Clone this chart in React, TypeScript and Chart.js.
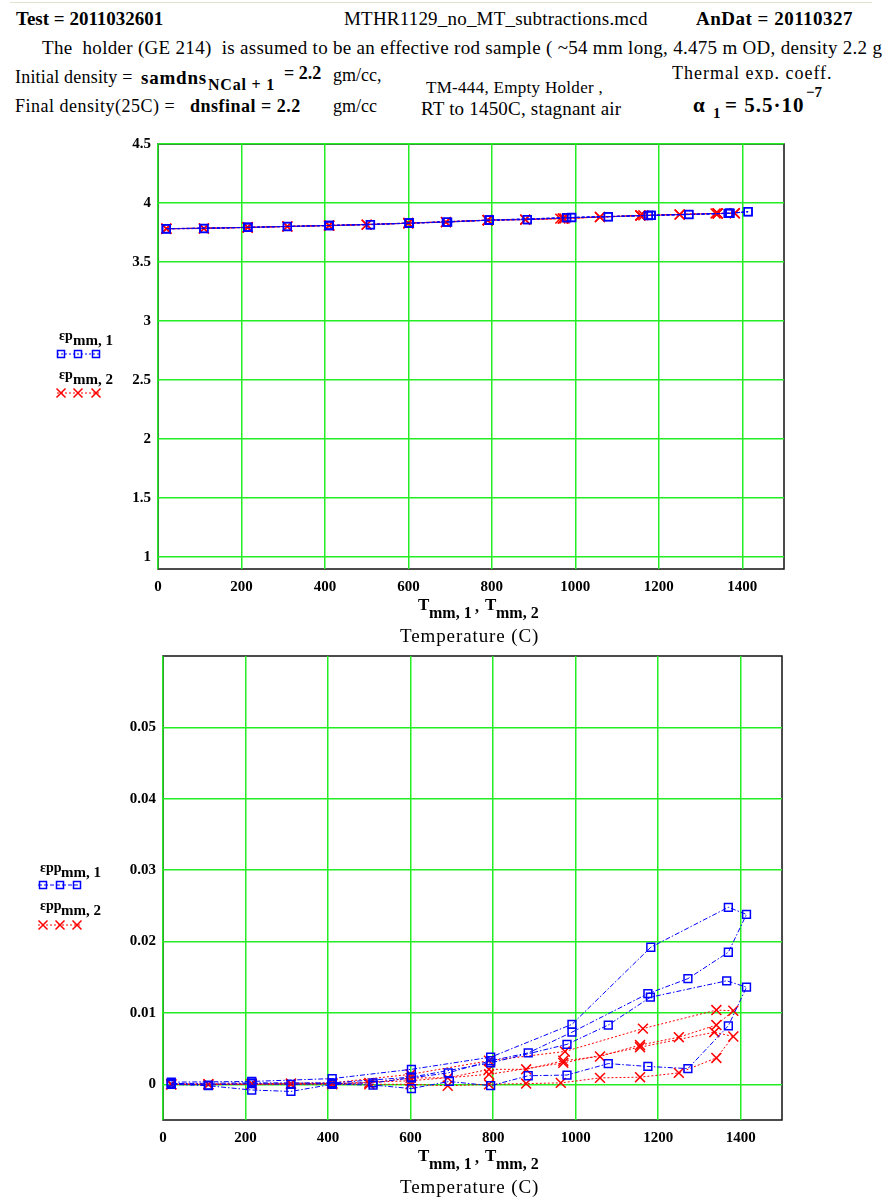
import React, { useEffect, useRef } from 'react';
import { Chart, registerables } from 'chart.js';

Chart.register(...registerables);

// ---------- data ----------
// series 1 temperatures (heat 1, cool 1, heat 2, cool 2)
const T1 = [
  20, 215, 410, 602, 794, 991, 1182, 1370, 1414,
  1370, 1272, 1175, 991, 885, 794, 691, 602, 509, 410, 310, 215, 110, 20,
  215, 410, 602, 794, 979, 1079, 1181, 1366, 1414,
  1370, 1272, 1175, 1079, 979, 885, 794, 694, 602, 509, 410, 310, 215, 110, 20,
];
// series 2 temperatures
const T2 = [
  20, 215, 410, 600, 790, 974, 1163, 1341, 1382,
  1341, 1250, 1156, 1059, 970, 880, 790, 690, 600, 500, 410, 310, 215, 110, 20,
  215, 410, 600, 790, 970, 1156, 1336, 1382,
  1341, 1250, 1156, 1059, 964, 880, 790, 690, 600, 500, 410, 310, 215, 110, 20,
];
// upper plot values
const ep1 = [
  3.783, 3.794, 3.810, 3.830, 3.856, 3.878, 3.896, 3.914, 3.927,
  3.913, 3.903, 3.895, 3.877, 3.860, 3.855, 3.839, 3.829, 3.817, 3.809, 3.802, 3.793, 3.785, 3.782,
  3.794, 3.810, 3.830, 3.855, 3.876, 3.884, 3.895, 3.913, 3.926,
  3.912, 3.902, 3.894, 3.883, 3.876, 3.859, 3.854, 3.838, 3.829, 3.816, 3.809, 3.801, 3.793, 3.784, 3.782,
];
const ep2 = [
  3.783, 3.794, 3.810, 3.830, 3.856, 3.869, 3.896, 3.913, 3.914,
  3.912, 3.903, 3.895, 3.882, 3.869, 3.860, 3.855, 3.839, 3.829, 3.817, 3.809, 3.802, 3.793, 3.785, 3.782,
  3.794, 3.810, 3.830, 3.855, 3.868, 3.895, 3.912, 3.913,
  3.911, 3.902, 3.894, 3.881, 3.868, 3.859, 3.854, 3.838, 3.829, 3.816, 3.809, 3.801, 3.793, 3.784, 3.782,
];
// lower plot values
const epp1 = [
  0.0003, 0.0004, 0.0008, 0.0021, 0.0038, 0.0084, 0.0192, 0.0248, 0.0238,
  0.0185, 0.0148, 0.0127, 0.0073, 0.0044, 0.0033, 0.0016, 0.0009, 0.0002, 0.0001, 0.0000, 0.0001, -0.0001, 0.0001,
  0.0002, 0.0002, 0.0010, 0.0030, 0.0056, 0.0083, 0.0122, 0.0145, 0.0136,
  0.0082, 0.0022, 0.0025, 0.0029, 0.0013, 0.0012, -0.0002, 0.0004, -0.0006, -0.0001, 0.0000, -0.0010, -0.0008, -0.0002, 0.0000,
];
const epp2 = [
  0.0000, 0.0001, 0.0002, 0.0014, 0.0033, 0.0046, 0.0078, 0.0104, 0.0103,
  0.0083, 0.0066, 0.0055, 0.0039, 0.0033, 0.0021, 0.0021, 0.0009, 0.0009, 0.0002, 0.0001, 0.0001, 0.0000, 0.0000, 0.0000,
  0.0000, 0.0001, 0.0005, 0.0014, 0.0030, 0.0052, 0.0073, 0.0067,
  0.0037, 0.0016, 0.0010, 0.0009, 0.0002, 0.0001, 0.0000, -0.0002, 0.0000, 0.0000, 0.0000, 0.0000, 0.0000, 0.0000, 0.0000,
];

const xTicks = [0, 200, 400, 600, 800, 1000, 1200, 1400];
const topYTicks = [1, 1.5, 2, 2.5, 3, 3.5, 4, 4.5];
const botYTicks = [0, 0.01, 0.02, 0.03, 0.04, 0.05];

// ---------- styling ----------
const FONT = '"Liberation Serif", "Times New Roman", Times, serif';
const BLUE = '#0000ff';
const RED = '#ff0000';
const GRID = '#22ee22';

const pts = (xs: number[], ys: number[]) => xs.map((x, i) => ({ x, y: ys[i] }));

const framePlugin = {
  id: 'frame',
  beforeDraw(chart: any) {
    const { ctx, chartArea: a } = chart;
    ctx.save();
    ctx.strokeStyle = '#111';
    ctx.lineWidth = 1.5;
    ctx.strokeRect(a.left, a.top, a.right - a.left, a.bottom - a.top);
    ctx.restore();
  },
};

const legendPlugin = {
  id: 'legendMarks',
  afterDraw(chart: any, _args: any, opts: any) {
    const ctx = chart.ctx;
    (opts.items || []).forEach((it: any) => {
      ctx.save();
      ctx.strokeStyle = it.color;
      ctx.lineWidth = 1;
      ctx.setLineDash(it.dash);
      ctx.beginPath();
      ctx.moveTo(it.x0, it.y);
      ctx.lineTo(it.x1, it.y);
      ctx.stroke();
      ctx.setLineDash([]);
      ctx.lineWidth = 1.5;
      it.marks.forEach((mx: number) => {
        ctx.beginPath();
        if (it.style === 'rect') {
          ctx.rect(mx - 3.5, it.y - 3.5, 7, 7);
        } else {
          ctx.moveTo(mx - 4.5, it.y - 4.5);
          ctx.lineTo(mx + 4.5, it.y + 4.5);
          ctx.moveTo(mx + 4.5, it.y - 4.5);
          ctx.lineTo(mx - 4.5, it.y + 4.5);
        }
        ctx.stroke();
      });
      ctx.restore();
    });
  },
};

function makeConfig(opts: {
  s1: number[]; s2: number[]; ymin: number; ymax: number; yTicks: number[];
  padding: any; blueDash: number[]; legend: any[];
}) {
  const tickFont = { family: FONT, size: 15, weight: 'bold' as const };
  return {
    type: 'scatter' as const,
    data: {
      datasets: [
        {
          data: pts(T1, opts.s1),
          showLine: true,
          borderColor: BLUE,
          borderWidth: 1,
          borderDash: opts.blueDash,
          pointStyle: 'rect',
          pointRadius: 5.5,
          pointBorderColor: BLUE,
          pointBackgroundColor: 'rgba(0,0,0,0)',
          pointBorderWidth: 1.5,
        },
        {
          data: pts(T2, opts.s2),
          showLine: true,
          borderColor: RED,
          borderWidth: 1,
          borderDash: [2, 2],
          pointStyle: 'crossRot',
          pointRadius: 7,
          pointBorderColor: RED,
          pointBackgroundColor: 'rgba(0,0,0,0)',
          pointBorderWidth: 1.5,
        },
      ],
    },
    options: {
      animation: false,
      responsive: false,
      devicePixelRatio: 1,
      layout: { padding: opts.padding },
      plugins: {
        legend: { display: false },
        tooltip: { enabled: false },
        legendMarks: { items: opts.legend },
      },
      scales: {
        x: {
          type: 'linear',
          min: 0,
          max: 1500,
          afterBuildTicks: (s: any) => { s.ticks = xTicks.map((v) => ({ value: v })); },
          afterFit: (s: any) => { s.height = 30; },
          grid: { color: GRID, lineWidth: 1.5, drawTicks: false },
          border: { display: false },
          ticks: { font: tickFont, color: '#000', padding: 9, maxRotation: 0, callback: (v: any) => String(v) },
        },
        y: {
          type: 'linear',
          min: opts.ymin,
          max: opts.ymax,
          afterBuildTicks: (s: any) => { s.ticks = opts.yTicks.map((v) => ({ value: v })); },
          afterFit: (s: any) => { s.width = 60; },
          grid: { color: GRID, lineWidth: 1.5, drawTicks: false },
          border: { display: false },
          ticks: { font: tickFont, color: '#000', padding: 7, callback: (v: any) => String(v) },
        },
      },
    },
    plugins: [framePlugin, legendPlugin],
  };
}

function ChartCanvas({ top, height, config }: { top: number; height: number; config: any }) {
  const ref = useRef<HTMLCanvasElement | null>(null);
  useEffect(() => {
    if (!ref.current) return;
    const chart = new Chart(ref.current, config);
    return () => chart.destroy();
  }, []);
  return (
    <canvas
      ref={ref}
      width={882}
      height={height}
      style={{ position: 'absolute', left: 0, top, width: 882, height }}
    />
  );
}

const base: React.CSSProperties = {
  position: 'absolute',
  fontFamily: FONT,
  whiteSpace: 'nowrap',
  lineHeight: 1,
  color: '#000',
};

function T({ x, y, s = 17, b = false, ls = 0, children }: any) {
  return (
    <div style={{ ...base, left: x, top: y, fontSize: s, fontWeight: b ? 'bold' : 'normal', letterSpacing: ls }}>
      {children}
    </div>
  );
}

function AxisTitle({ y }: { y: number }) {
  return (
    <>
      <T x={418} y={y} s={17} b>T</T>
      <T x={429} y={y + 9} s={16} b>mm, 1</T>
      <T x={475} y={y + 3} s={16} b>,</T>
      <T x={485} y={y} s={17} b>T</T>
      <T x={496} y={y + 9} s={16} b>mm, 2</T>
      <T x={400} y={y + 30} s={19} ls={0.9}>Temperature (C)</T>
    </>
  );
}

function LegendText({ x, y, main, sub, subX }: any) {
  return (
    <>
      <T x={x} y={y} s={14} b>{main}</T>
      <T x={subX} y={y + 4} s={15} b>{sub}</T>
    </>
  );
}

export default function App() {
  const topConfig = makeConfig({
    s1: ep1,
    s2: ep2,
    ymin: 0.9,
    ymax: 4.5,
    yTicks: topYTicks,
    padding: { left: 98, top: 24, right: 98, bottom: 21 },
    blueDash: [3, 2],
    legend: [
      { color: BLUE, dash: [2, 2], style: 'rect', x0: 57, x1: 99, y: 234, marks: [61, 78, 96] },
      { color: RED, dash: [2, 2], style: 'x', x0: 57, x1: 99, y: 273, marks: [61, 78, 96] },
    ],
  });
  const botConfig = makeConfig({
    s1: epp1,
    s2: epp2,
    ymin: -0.005,
    ymax: 0.06,
    yTicks: botYTicks,
    padding: { left: 103, top: 16, right: 100, bottom: 10 },
    blueDash: [5, 2, 1.5, 2],
    legend: [
      { color: BLUE, dash: [4, 2], style: 'rect', x0: 38, x1: 80, y: 245, marks: [43, 60, 77] },
      { color: RED, dash: [2, 2], style: 'x', x0: 38, x1: 80, y: 285, marks: [43, 60, 77] },
    ],
  });

  return (
    <div style={{ position: 'absolute', left: 0, top: 0, width: 882, height: 1200, overflow: 'hidden', background: '#fff' }}>
      <div style={{ position: 'absolute', left: 10, top: 2, width: 862, height: 1, background: '#dfe3cf' }} />

      {/* header */}
      <T x={16} y={9} s={19} b>Test = 2011032601</T>
      <T x={344} y={9} s={19} ls={0.2}>MTHR1129_no_MT_subtractions.mcd</T>
      <T x={696} y={9} s={19} b ls={0.5}>AnDat = 20110327</T>

      <T x={42} y={38} s={19} ls={0.3}>The&nbsp; holder (GE 214)&nbsp; is assumed to be an effective rod sample ( ~54 mm long, 4.475 m OD, density 2.2 g/cc)</T>

      <T x={15} y={68} s={18} ls={0.2}>Initial density =</T>
      <T x={141} y={68} s={19} b ls={0.8}>samdns</T>
      <T x={208} y={77} s={16} b ls={0.8}>NCal + 1</T>
      <T x={284} y={64} s={18} b>= 2.2</T>
      <T x={333} y={66} s={18}>gm/cc,</T>
      <T x={426} y={79} s={17} ls={0.3}>TM-444, Empty Holder ,</T>
      <div style={{ position: 'absolute', left: 672, top: 64, width: 200, height: 16, overflow: 'hidden' }}>
        <T x={0} y={0} s={18} ls={1}>Thermal exp. coeff.</T>
      </div>

      <T x={15} y={97} s={18} ls={0.5}>Final density(25C) =</T>
      <T x={190} y={97} s={18} b ls={0.5}>dnsfinal = 2.2</T>
      <T x={333} y={97} s={18}>gm/cc</T>
      <T x={421} y={99} s={19} ls={0.2}>RT to 1450C, stagnant air</T>
      <T x={693} y={95} s={21} b>α</T>
      <T x={713} y={106} s={15} b>1</T>
      <T x={725} y={95} s={21} b ls={1}>= 5.5·10</T>
      <T x={806} y={85} s={15} b>−7</T>

      {/* upper chart */}
      <ChartCanvas top={120} height={500} config={topConfig} />
      <LegendText x={59} y={329} main="εp" sub="mm, 1" subX={73} />
      <LegendText x={59} y={368} main="εp" sub="mm, 2" subX={73} />
      <AxisTitle y={596} />

      {/* lower chart */}
      <ChartCanvas top={640} height={520} config={botConfig} />
      <LegendText x={40} y={861} main="εpp" sub="mm, 1" subX={61} />
      <LegendText x={40} y={899} main="εpp" sub="mm, 2" subX={61} />
      <AxisTitle y={1147} />
    </div>
  );
}
